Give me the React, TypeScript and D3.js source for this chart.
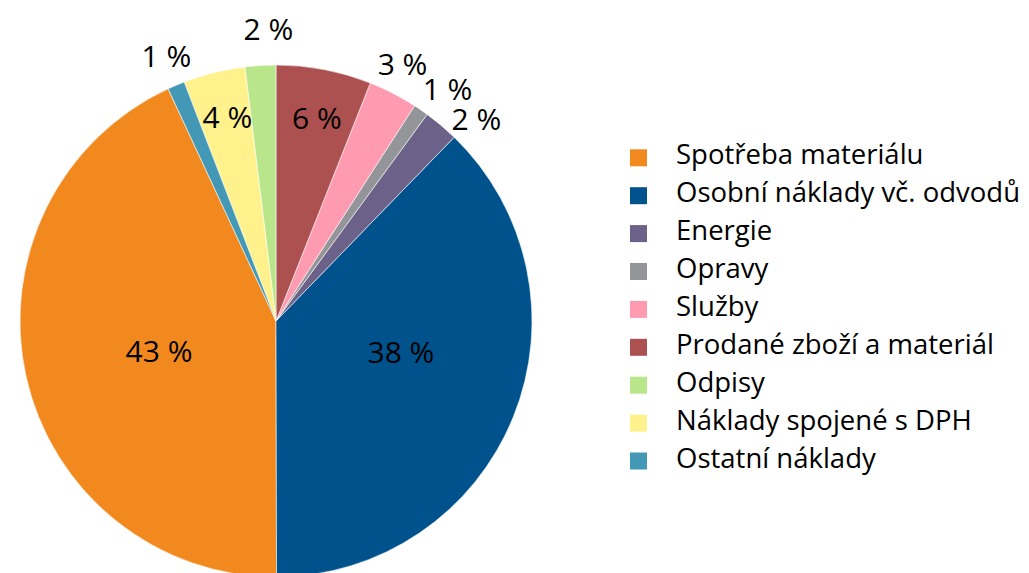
import React from "react";
import * as d3 from "d3";

const categories = [
  "Spotřeba materiálu",
  "Osobní náklady vč. odvodů",
  "Energie",
  "Opravy",
  "Služby",
  "Prodané zboží a materiál",
  "Odpisy",
  "Náklady spojené s DPH",
  "Ostatní náklady",
];
const values = [43.1, 37.7, 2.2, 0.95, 3.1, 6.0, 1.94, 3.9, 1.08];
const labels = ["43 %", "38 %", "2 %", "1 %", "3 %", "6 %", "2 %", "4 %", "1 %"];
const colors = [
  "#F2891F",
  "#00528C",
  "#6B6189",
  "#939598",
  "#FF9BB0",
  "#AD5150",
  "#B9E68B",
  "#FFF28C",
  "#4399B5",
];
// label layout: radius factor and angular nudge (degrees)
const labelRadius = [0.472, 0.503, 1.11, 1.127, 1.12, 0.81, 1.14, 0.82, 1.12];
const labelNudge = [-2, -8, 4.7, 2, -1, 0.6, 2, 0.6, 0.5];

const W = 1029;
const H = 573;
const cx = 276;
const cy = 321;
const R = 256;
const FONT = "'Open Sans', sans-serif";
const LABEL_SIZE = 30;
const LEGEND_SIZE = 27.5;

export default function App() {
  const total = d3.sum(values);
  const startFrac = d3.sum(values.slice(0, 6)) / total;
  const a0 = startFrac * 2 * Math.PI;
  const pie = d3
    .pie<number>()
    .sort(null)
    .value((d) => d)
    .startAngle(a0)
    .endAngle(a0 - 2 * Math.PI);
  const arcs = pie(values);
  const arc = d3.arc<d3.PieArcDatum<number>>().innerRadius(0).outerRadius(R);

  return (
    <svg width={W} height={H} style={{ position: "absolute", left: 0, top: 0 }}>
      <g transform={`translate(${cx},${cy})`}>
        {arcs.map((a, i) => (
          <path key={i} d={arc(a) || ""} fill={colors[i]} stroke="#ffffff" strokeWidth={0.8} strokeOpacity={0.7} />
        ))}
        {arcs.map((a, i) => {
          const mid = (a.startAngle + a.endAngle) / 2 + (labelNudge[i] * Math.PI) / 180;
          const r = labelRadius[i] * R;
          const x = Math.sin(mid) * r;
          const y = -Math.cos(mid) * r;
          return (
            <text
              key={"l" + i}
              x={x}
              y={y + LABEL_SIZE * 0.36}
              textAnchor="middle"
              fontFamily={FONT}
              fontSize={LABEL_SIZE}
              fill="#000"
            >
              {labels[i]}
            </text>
          );
        })}
      </g>
      <g>
        {categories.map((c, i) => (
          <g key={c} transform={`translate(630,${149.3 + i * 37.9})`}>
            <rect width={17} height={17} fill={colors[i]} />
            <text x={46} y={15} fontFamily={FONT} fontSize={LEGEND_SIZE} fill="#000">
              {c}
            </text>
          </g>
        ))}
      </g>
    </svg>
  );
}
